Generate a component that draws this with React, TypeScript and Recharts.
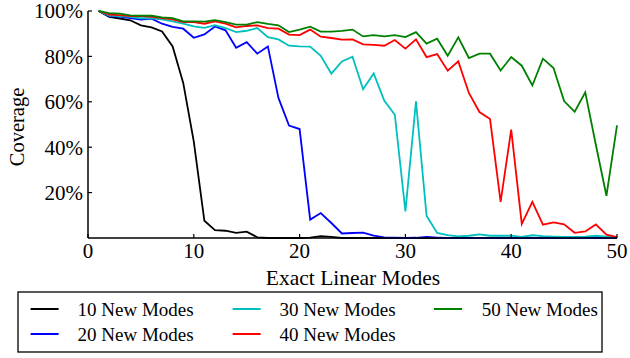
import React from 'react';
import { LineChart, Line, XAxis, YAxis, Label } from 'recharts';

const modes: number[] = [1, 2, 3, 4, 5, 6, 7, 8, 9, 10, 11, 12, 13, 14, 15, 16, 17, 18, 19, 20, 21, 22, 23, 24, 25, 26, 27, 28, 29, 30, 31, 32, 33, 34, 35, 36, 37, 38, 39, 40, 41, 42, 43, 44, 45, 46, 47, 48, 49, 50];

const new10: number[] = [100, 97.4, 96.7, 95.9, 93.7, 92.8, 91, 84.4, 68.3, 42.5, 7.6, 3.5, 3.2, 2.3, 2.8, 0.3, 0, 0, 0, 0, 0.2, 0.8, 0.5, 0, 0, 0, 0, 0, 0, 0, 0, 0, 0, 0, 0, 0, 0, 0, 0, 0, 0, 0, 0, 0, 0, 0, 0, 0, 0, 0];
const new20: number[] = [100, 97.8, 97.5, 96.9, 96.2, 96.6, 94.4, 93, 92.2, 88.2, 89.7, 93.2, 91.5, 83.8, 86.3, 81.2, 84.4, 61.7, 49.5, 48, 8.1, 11, 6.6, 2, 2.2, 2.4, 1, 0.3, 0.2, 0, 0.1, 0.5, 0.2, 0, 0, 0, 0, 0, 0, 0, 0, 0, 0, 0, 0, 0, 0, 0, 0, 0];
const new30: number[] = [100, 98, 97.8, 97.4, 96.8, 96.8, 96.3, 95.4, 94.4, 93.2, 92.6, 93.8, 92.5, 90.7, 91.3, 92.5, 88.5, 87.5, 84.7, 84.4, 84.3, 80.3, 72.4, 77.8, 79.9, 65.5, 72.5, 60.5, 54.3, 11.7, 60.2, 9.8, 2.2, 1.3, 0.7, 1, 1.6, 1, 1, 1, 0.5, 1.2, 0.8, 0.6, 0.5, 0.5, 0.6, 1, 0.6, 0.3];
const new40: number[] = [100, 98.4, 98.2, 97.8, 97.8, 97.4, 96.9, 96.3, 95.1, 95.1, 94.4, 95.4, 94.4, 92.8, 93.4, 93.7, 92.5, 92.2, 89.6, 89.4, 91.8, 88.7, 88.1, 87.4, 87.5, 85.3, 85.1, 84.7, 87.2, 83.4, 87.5, 79.7, 81, 73.7, 77.8, 63.9, 55.5, 52.4, 15.9, 47.7, 6.2, 15.9, 5.9, 6.9, 6, 2.3, 2.9, 6, 1.5, 0.4];
const new50: number[] = [100, 99.1, 98.8, 98.1, 98, 97.9, 97.2, 96.9, 95.4, 95.4, 95.3, 96, 95.1, 94, 94, 95.1, 94.3, 93.7, 90.7, 91.8, 93.1, 90.9, 90.9, 91.2, 91.8, 88.8, 89.4, 88.8, 89.4, 88.5, 90.7, 85.6, 87.8, 80.3, 88.4, 79.3, 81.2, 81.2, 73.8, 79.7, 75.9, 67.2, 79, 74.9, 60.3, 55.6, 64.2, 41.1, 18.6, 49.6];

const xTicks: number[] = [0, 10, 20, 30, 40, 50];
const yTicks: number[] = [20, 40, 60, 80, 100];

const seriesNames: string[] = ['10 New Modes', '20 New Modes', '30 New Modes', '40 New Modes', '50 New Modes'];
const seriesKeys: string[] = ['m10', 'm20', 'm30', 'm40', 'm50'];
const seriesColors: string[] = ['#000000', '#0000ff', '#00bfbf', '#ff0000', '#008000'];
const seriesValues: number[][] = [new10, new20, new30, new40, new50];

const data = modes.map((m, i) => {
  const row: Record<string, number> = { x: m };
  seriesKeys.forEach((k, j) => {
    row[k] = seriesValues[j][i];
  });
  return row;
});

const FONT = "'Liberation Serif', 'Times New Roman', Times, serif";
const txt = (size: number): React.CSSProperties => ({ fontFamily: FONT, fontSize: size });

const YTick = (props: any) => {
  const { x, y, payload } = props;
  return (
    <g>
      <line x1={x} y1={y} x2={x + 4} y2={y} stroke="#000" strokeWidth={1.2} />
      <text x={x - 5} y={y} dy="0.35em" textAnchor="end" style={txt(21)} fill="#000">
        {`${payload.value}%`}
      </text>
    </g>
  );
};

const XTick = (props: any) => {
  const { x, y, payload } = props;
  return (
    <g>
      <line x1={x} y1={y} x2={x} y2={y - 4} stroke="#000" strokeWidth={1.2} />
      <text x={x} y={y + 20} textAnchor="middle" style={txt(21)} fill="#000">
        {payload.value}
      </text>
    </g>
  );
};

const legendCols = [
  [0, 1],
  [2, 3],
  [4],
];
const colLineX = [12.6, 214.6, 416];
const colTextX = [59.6, 261.6, 463.7];
const rowY = [17, 42];

const LegendBox = () => (
  <svg width={586} height={62} style={{ position: 'absolute', left: 17, top: 291 }}>
    <rect x={1} y={1} width={584} height={60} fill="#fff" stroke="#000" strokeWidth={1.3} />
    {legendCols.map((col, ci) =>
      col.map((si, ri) => (
        <g key={si}>
          <line
            x1={colLineX[ci] + 1}
            x2={colLineX[ci] + 29}
            y1={rowY[ri] + 1}
            y2={rowY[ri] + 1}
            stroke={seriesColors[si]}
            strokeWidth={2}
          />
          <text x={colTextX[ci] + 1} y={rowY[ri] + 1} dy="0.35em" style={txt(19)} fill="#000">
            {seriesNames[si]}
          </text>
        </g>
      ))
    )}
  </svg>
);

export default function App() {
  return (
    <div style={{ position: 'absolute', left: 0, top: 0, width: 630, height: 358, background: '#fff' }}>
      <LineChart
        width={630}
        height={358}
        data={data}
        margin={{ top: 11, right: 13, left: 28, bottom: 90 }}
      >
        <XAxis
          dataKey="x"
          type="number"
          domain={[0, 50]}
          ticks={xTicks}
          tickSize={0}
          tickMargin={0}
          height={30}
          tick={<XTick />}
          axisLine={{ stroke: '#000', strokeWidth: 1.5 }}
          tickLine={false}
          interval={0}
        >
          <Label
            content={() => (
              <text x={353} y={285} textAnchor="middle" style={txt(21.5)} fill="#000">
                Exact Linear Modes
              </text>
            )}
          />
        </XAxis>
        <YAxis
          type="number"
          domain={[0, 100]}
          ticks={yTicks}
          width={60}
          tickSize={0}
          tickMargin={0}
          tick={<YTick />}
          axisLine={{ stroke: '#000', strokeWidth: 1.5 }}
          tickLine={false}
          interval={0}
        >
          <Label
            content={() => (
              <text
                x={17}
                y={127}
                transform="rotate(-90 17 127)"
                textAnchor="middle"
                dominantBaseline="central"
                style={txt(20.5)}
                fill="#000"
              >
                Coverage
              </text>
            )}
          />
        </YAxis>
        {seriesKeys.map((k, i) => (
          <Line
            key={k}
            dataKey={k}
            name={seriesNames[i]}
            stroke={seriesColors[i]}
            strokeWidth={1.8}
            dot={false}
            isAnimationActive={false}
            type="linear"
          />
        ))}
      </LineChart>
      <LegendBox />
    </div>
  );
}
